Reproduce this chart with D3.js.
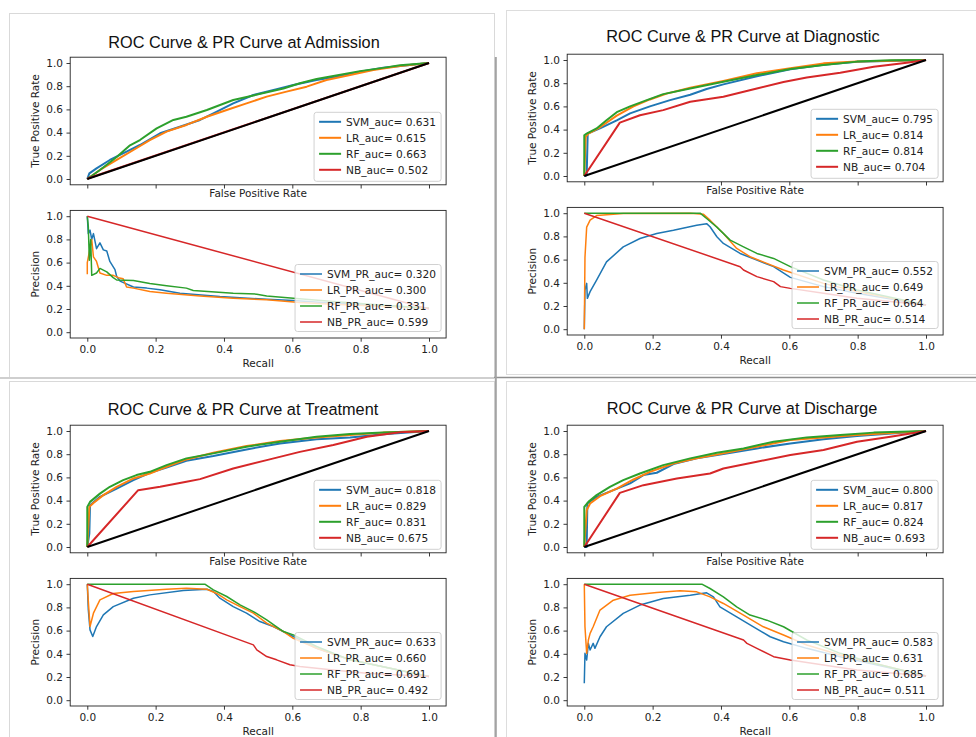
<!DOCTYPE html>
<html><head><meta charset="utf-8">
<script src="https://cdn.jsdelivr.net/npm/d3@7"></script>
<style>body{margin:0;background:#fff}svg{display:block}</style>
</head><body><svg id="c" width="976" height="737"></svg>
<script>
// ---------- DATA ----------
const stages = ["Admission", "Diagnostic", "Treatment", "Discharge"];
const models = ["SVM", "LR", "RF", "NB"];
const tickValues = [0, 0.2, 0.4, 0.6, 0.8, 1.0];
const rocAuc = [[0.631, 0.615, 0.663, 0.502], [0.795, 0.814, 0.814, 0.704], [0.818, 0.829, 0.831, 0.675], [0.800, 0.817, 0.824, 0.693]];
const prAuc = [[0.320, 0.300, 0.331, 0.599], [0.552, 0.649, 0.664, 0.514], [0.633, 0.660, 0.691, 0.492], [0.583, 0.631, 0.685, 0.511]];
const chanceLine = [[0, 0], [1, 1]];

// ROC curves [SVM, LR, RF, NB] as [FPR, TPR]
const rocAdmission = [
  [[0,0],[0.006,0.049],[0.027,0.092],[0.066,0.164],[0.115,0.236],[0.154,0.293],[0.213,0.394],[0.271,0.451],[0.33,0.509],[0.369,0.566],[0.427,0.652],[0.486,0.724],[0.554,0.773],[0.603,0.81],[0.671,0.853],[0.72,0.876],[0.798,0.925],[0.866,0.96],[1,1]],
  [[0,0],[0.037,0.078],[0.086,0.164],[0.135,0.25],[0.183,0.336],[0.232,0.408],[0.29,0.466],[0.35,0.537],[0.408,0.595],[0.466,0.652],[0.525,0.71],[0.583,0.753],[0.642,0.796],[0.7,0.853],[0.769,0.897],[0.837,0.94],[0.915,0.974],[1,1]],
  [[0,0],[0.037,0.078],[0.086,0.19],[0.125,0.29],[0.154,0.336],[0.203,0.437],[0.252,0.509],[0.29,0.537],[0.35,0.595],[0.427,0.681],[0.486,0.72],[0.574,0.78],[0.622,0.825],[0.671,0.862],[0.72,0.888],[0.798,0.93],[0.866,0.958],[0.915,0.98],[1,1]],
  [[0,0],[0.003,0.006],[1,1]]
];
const rocDiagnostic = [
  [[0,0],[0.007,0.006],[0.01,0.366],[0.046,0.41],[0.095,0.48],[0.134,0.54],[0.192,0.6],[0.251,0.654],[0.31,0.7],[0.358,0.75],[0.407,0.79],[0.505,0.86],[0.603,0.92],[0.7,0.96],[0.798,0.984],[1,1]],
  [[0,0],[0.004,0.337],[0.012,0.366],[0.046,0.42],[0.095,0.52],[0.144,0.6],[0.192,0.66],[0.241,0.71],[0.31,0.76],[0.407,0.82],[0.505,0.885],[0.603,0.928],[0.7,0.971],[0.798,0.988],[1,1]],
  [[0,0],[0,0.35],[0.007,0.366],[0.036,0.41],[0.065,0.48],[0.095,0.55],[0.134,0.6],[0.183,0.654],[0.231,0.706],[0.31,0.755],[0.407,0.813],[0.505,0.87],[0.603,0.922],[0.7,0.957],[0.798,0.986],[0.896,0.997],[1,1]],
  [[0,0],[0.104,0.46],[0.163,0.524],[0.231,0.568],[0.31,0.64],[0.407,0.683],[0.505,0.755],[0.583,0.81],[0.651,0.85],[0.749,0.89],[0.847,0.942],[0.944,0.977],[1,1]]
];
const rocTreatment = [
  [[0,0],[0.006,0.115],[0.008,0.36],[0.037,0.432],[0.086,0.504],[0.135,0.576],[0.183,0.64],[0.232,0.686],[0.29,0.744],[0.369,0.784],[0.466,0.841],[0.564,0.893],[0.671,0.928],[0.769,0.945],[0.866,0.971],[1,1]],
  [[0,0],[0.006,0.346],[0.018,0.38],[0.047,0.447],[0.086,0.519],[0.135,0.591],[0.183,0.634],[0.232,0.692],[0.29,0.755],[0.369,0.813],[0.466,0.87],[0.564,0.914],[0.671,0.945],[0.769,0.965],[0.866,0.986],[1,1]],
  [[0,0],[0,0.346],[0.008,0.389],[0.037,0.46],[0.066,0.519],[0.105,0.576],[0.144,0.62],[0.183,0.648],[0.232,0.706],[0.29,0.764],[0.369,0.807],[0.466,0.865],[0.564,0.908],[0.671,0.95],[0.769,0.974],[0.866,0.988],[1,1]],
  [[0,0],[0.149,0.49],[0.213,0.519],[0.29,0.562],[0.33,0.585],[0.427,0.677],[0.525,0.749],[0.622,0.82],[0.72,0.88],[0.818,0.95],[0.915,0.99],[1,1]]
];
const rocDischarge = [
  [[0,0],[0.007,0],[0.009,0.375],[0.036,0.432],[0.085,0.49],[0.134,0.548],[0.173,0.62],[0.212,0.64],[0.261,0.715],[0.329,0.764],[0.407,0.801],[0.505,0.85],[0.603,0.893],[0.7,0.928],[0.798,0.957],[1,1]],
  [[0,0],[0.007,0.317],[0.017,0.375],[0.046,0.438],[0.095,0.504],[0.144,0.582],[0.192,0.648],[0.261,0.72],[0.329,0.764],[0.407,0.807],[0.505,0.865],[0.603,0.922],[0.7,0.945],[0.798,0.965],[1,1]],
  [[0,0],[0,0.346],[0.012,0.389],[0.036,0.447],[0.075,0.519],[0.114,0.576],[0.163,0.634],[0.231,0.706],[0.31,0.764],[0.388,0.813],[0.466,0.85],[0.554,0.908],[0.651,0.945],[0.749,0.965],[0.847,0.986],[1,1]],
  [[0,0],[0.104,0.467],[0.173,0.533],[0.271,0.59],[0.368,0.634],[0.407,0.677],[0.505,0.735],[0.603,0.793],[0.7,0.836],[0.798,0.908],[0.896,0.951],[1,1]]
];

// PR curves [SVM, LR, RF, NB] as [Recall, Precision]
const prAdmission = [
  [[0,1],[0.003,0.85],[0.008,0.88],[0.013,0.8],[0.018,0.85],[0.027,0.72],[0.037,0.77],[0.047,0.71],[0.057,0.7],[0.066,0.61],[0.081,0.54],[0.086,0.48],[0.096,0.44],[0.135,0.39],[0.174,0.38],[0.213,0.365],[0.271,0.336],[0.388,0.307],[0.525,0.284],[0.603,0.273],[0.72,0.25],[0.818,0.236],[1,0.207]],
  [[0,0.5],[0,0.6],[0.013,0.8],[0.018,0.65],[0.027,0.61],[0.037,0.51],[0.057,0.49],[0.076,0.49],[0.091,0.47],[0.105,0.46],[0.115,0.39],[0.135,0.38],[0.183,0.35],[0.232,0.336],[0.33,0.313],[0.427,0.293],[0.525,0.279],[0.622,0.256],[0.72,0.241],[1,0.207]],
  [[0,1],[0.003,0.91],[0.006,0.62],[0.01,0.8],[0.013,0.49],[0.027,0.51],[0.037,0.55],[0.057,0.52],[0.076,0.47],[0.086,0.45],[0.135,0.445],[0.183,0.42],[0.232,0.4],[0.29,0.38],[0.31,0.36],[0.427,0.336],[0.496,0.328],[0.525,0.313],[0.603,0.293],[0.72,0.264],[0.818,0.244],[1,0.207]],
  [[0,1],[1,0.2]]
];
const prDiagnostic = [
  [[0,0],[0.002,0.338],[0.007,0.395],[0.009,0.266],[0.017,0.324],[0.036,0.424],[0.065,0.58],[0.114,0.71],[0.163,0.782],[0.212,0.825],[0.261,0.853],[0.329,0.897],[0.358,0.91],[0.368,0.883],[0.388,0.797],[0.407,0.739],[0.456,0.653],[0.505,0.596],[0.554,0.539],[0.603,0.447],[0.7,0.367],[0.798,0.31],[1,0.209]],
  [[0,0],[0.002,0.62],[0.007,0.88],[0.017,0.94],[0.036,0.98],[0.114,0.997],[0.31,1],[0.349,0.99],[0.368,0.94],[0.407,0.825],[0.446,0.696],[0.485,0.625],[0.534,0.567],[0.583,0.51],[0.7,0.395],[0.798,0.324],[1,0.209]],
  [[0,1],[0.339,1],[0.358,0.954],[0.388,0.88],[0.427,0.768],[0.466,0.71],[0.505,0.653],[0.554,0.61],[0.603,0.539],[0.7,0.424],[0.798,0.338],[1,0.209]],
  [[0,1],[0.456,0.539],[0.466,0.51],[0.505,0.453],[0.554,0.41],[0.574,0.367],[0.603,0.352],[0.7,0.31],[0.798,0.266],[1,0.209]]
];
const prTreatment = [
  [[0,1],[0.003,0.78],[0.008,0.606],[0.016,0.549],[0.027,0.635],[0.047,0.736],[0.076,0.807],[0.135,0.879],[0.183,0.908],[0.281,0.945],[0.35,0.957],[0.369,0.937],[0.388,0.879],[0.427,0.807],[0.466,0.75],[0.505,0.678],[0.544,0.635],[0.603,0.549],[0.671,0.448],[0.769,0.348],[1,0.204]],
  [[0,1],[0.004,0.81],[0.008,0.635],[0.018,0.75],[0.037,0.865],[0.076,0.92],[0.135,0.937],[0.232,0.957],[0.29,0.966],[0.35,0.957],[0.379,0.92],[0.408,0.865],[0.447,0.807],[0.486,0.75],[0.525,0.664],[0.574,0.592],[0.603,0.534],[0.671,0.448],[0.769,0.348],[1,0.204]],
  [[0,1],[0.344,1],[0.369,0.951],[0.408,0.894],[0.447,0.822],[0.486,0.764],[0.525,0.693],[0.574,0.592],[0.603,0.563],[0.671,0.463],[0.769,0.348],[1,0.204]],
  [[0,1],[0.486,0.477],[0.496,0.434],[0.525,0.376],[0.554,0.348],[0.593,0.305],[0.622,0.29],[0.72,0.261],[0.818,0.233],[1,0.204]]
];
const prDischarge = [
  [[0,0.146],[0.002,0.404],[0.007,0.347],[0.012,0.49],[0.017,0.433],[0.026,0.49],[0.031,0.447],[0.046,0.547],[0.065,0.633],[0.114,0.748],[0.163,0.82],[0.231,0.877],[0.31,0.905],[0.358,0.926],[0.378,0.891],[0.397,0.805],[0.446,0.719],[0.495,0.633],[0.544,0.547],[0.583,0.504],[0.651,0.447],[0.749,0.375],[1,0.209]],
  [[0,1],[0.002,0.633],[0.007,0.404],[0.012,0.519],[0.017,0.576],[0.026,0.633],[0.046,0.777],[0.085,0.862],[0.134,0.905],[0.212,0.928],[0.28,0.943],[0.329,0.934],[0.368,0.891],[0.407,0.834],[0.466,0.734],[0.524,0.633],[0.583,0.562],[0.651,0.476],[0.749,0.39],[1,0.209]],
  [[0,1],[0.344,1],[0.368,0.963],[0.407,0.891],[0.446,0.805],[0.485,0.734],[0.534,0.69],[0.583,0.633],[0.651,0.519],[0.749,0.404],[0.847,0.318],[1,0.209]],
  [[0,1],[0.466,0.519],[0.476,0.49],[0.505,0.447],[0.554,0.375],[0.603,0.347],[0.7,0.304],[0.798,0.261],[1,0.209]]
];

const rocData = [rocAdmission, rocDiagnostic, rocTreatment, rocDischarge];
const prData = [prAdmission, prDiagnostic, prTreatment, prDischarge];

// ---------- STYLE / LAYOUT ----------
const colors = ["#1f77b4", "#ff7f0e", "#2ca02c", "#d62728"];
const layout = [
  {left: 70.2, top: 57.2, tx: 244, ty: 48},
  {left: 567.2, top: 54.2, tx: 743, ty: 42},
  {left: 70.2, top: 425.2, tx: 243, ty: 415},
  {left: 567.2, top: 425.2, tx: 742, ty: 414}
];
const AW = 375.9, AH = 127.6, PR_OFFSET = 153.2;
const FONT = "'DejaVu Sans', sans-serif";
const FS = 10.5;

const svg = d3.select("#c");

// screenshot frames
const frames = svg.append("g").attr("fill", "none");
frames.append("rect").attr("x", 9.5).attr("y", 13.5).attr("width", 485).attr("height", 364).attr("stroke", "#d9d9d9");
frames.append("rect").attr("x", 506.5).attr("y", 10.5).attr("width", 480).attr("height", 364).attr("stroke", "#dddddd");
frames.append("rect").attr("x", 9.5).attr("y", 381.5).attr("width", 485).attr("height", 400).attr("stroke", "#d9d9d9");
frames.append("rect").attr("x", 506.5).attr("y", 381.5).attr("width", 480).attr("height", 400).attr("stroke", "#dddddd");
frames.append("line").attr("x1", 0).attr("x2", 494).attr("y1", 378).attr("y2", 378).attr("stroke", "#cfcfcf").attr("stroke-width", 2);
frames.append("line").attr("x1", 494).attr("x2", 976).attr("y1", 377.5).attr("y2", 377.5).attr("stroke", "#8f8f8f").attr("stroke-width", 1.5);
frames.append("line").attr("x1", 495.8).attr("x2", 495.8).attr("y1", 57).attr("y2", 737).attr("stroke", "#a3a3a3").attr("stroke-width", 2);

function drawAxes(g, x, y, left, top, showXLabels) {
  const bottom = top + AH;
  const ax = g.append("g").attr("transform", `translate(0,${bottom})`)
    .call(d3.axisBottom(x).tickValues(tickValues).tickSize(3.7).tickPadding(3.5)
      .tickFormat(showXLabels ? d3.format(".1f") : () => ""));
  const ay = g.append("g").attr("transform", `translate(${left},0)`)
    .call(d3.axisLeft(y).tickValues(tickValues).tickSize(3.7).tickPadding(3.5).tickFormat(d3.format(".1f")));
  [ax, ay].forEach(a => {
    a.select(".domain").remove();
    a.selectAll("line").attr("stroke", "#222").attr("stroke-width", 0.9);
    a.selectAll("text").attr("font-family", FONT).attr("font-size", FS).attr("fill", "#222");
  });
}

function drawLegend(g, labels, right, bottom, h, lineW) {
  const lg = g.append("g");
  const rect = lg.append("rect").attr("fill", "white").attr("fill-opacity", 0.8)
    .attr("stroke", "#cccccc").attr("stroke-opacity", 0.9).attr("rx", 2.5);
  const items = lg.selectAll("g.item").data(labels).join("g").attr("class", "item");
  const texts = items.append("text").text(d => d).attr("font-family", FONT).attr("font-size", FS + 0.1)
    .attr("fill", "#222").attr("dy", "0.35em");
  let tw = 0;
  texts.each(function () { tw = Math.max(tw, this.getComputedTextLength()); });
  const w = tw + 37;
  const left = right - w, top = bottom - h;
  rect.attr("x", left).attr("y", top).attr("width", w).attr("height", h);
  items.each(function (d, i) {
    const cy = top + 9.5 + 16 * i;
    const it = d3.select(this);
    it.insert("line", "text").attr("x1", left + 5).attr("x2", left + 27).attr("y1", cy).attr("y2", cy)
      .attr("stroke", colors[i]).attr("stroke-width", lineW);
    it.select("text").attr("x", left + 32).attr("y", cy);
  });
}

stages.forEach((stage, s) => {
  const L = layout[s];
  const g = svg.append("g");
  const left = L.left, right = L.left + AW;
  const x = d3.scaleLinear().domain([-0.05, 1.05]).range([left, right]);

  // title
  g.append("text").attr("x", L.tx).attr("y", L.ty).attr("text-anchor", "middle")
    .attr("font-family", "'Liberation Sans', Arial, Helvetica, sans-serif").attr("font-size", 16.3)
    .attr("fill", "#111").text(`ROC Curve & PR Curve at ${stage}`);

  // ---- ROC ----
  const rTop = L.top, rBot = L.top + AH;
  const yR = d3.scaleLinear().domain([-0.05, 1.05]).range([rBot, rTop]);
  const lineR = d3.line().x(d => x(d[0])).y(d => yR(d[1]));
  const clipR = `clipR${s}`;
  g.append("clipPath").attr("id", clipR).append("rect").attr("x", left).attr("y", rTop).attr("width", AW).attr("height", AH);
  const pr = g.append("g").attr("clip-path", `url(#${clipR})`);
  rocData[s].forEach((pts, i) => {
    pr.append("path").attr("d", lineR(pts)).attr("fill", "none").attr("stroke", colors[i])
      .attr("stroke-width", 2).attr("stroke-linejoin", "round");
  });
  pr.append("path").attr("d", lineR(chanceLine)).attr("fill", "none").attr("stroke", "#000").attr("stroke-width", 2);
  drawAxes(g, x, yR, left, rTop, false);
  g.append("rect").attr("x", left).attr("y", rTop).attr("width", AW).attr("height", AH)
    .attr("fill", "none").attr("stroke", "#222").attr("stroke-width", 0.9);
  g.append("text").attr("x", (left + right) / 2).attr("y", rBot + 8.4).attr("dy", "0.35em")
    .attr("text-anchor", "middle").attr("font-family", FONT).attr("font-size", FS).attr("fill", "#222")
    .text("False Positive Rate");
  g.append("text").attr("transform", `translate(${left - 35},${(rTop + rBot) / 2}) rotate(-90)`)
    .attr("dy", "0.35em").attr("text-anchor", "middle").attr("font-family", FONT).attr("font-size", FS)
    .attr("fill", "#222").text("True Positive Rate");
  drawLegend(g, models.map((m, i) => `${m}_auc= ${rocAuc[s][i].toFixed(3)}`), right - 5, rBot - 3.5, 69, 2);

  // ---- PR ----
  const pTop = L.top + PR_OFFSET, pBot = pTop + AH;
  const yP = d3.scaleLinear().domain([-0.05, 1.05]).range([pBot, pTop]);
  const lineP = d3.line().x(d => x(d[0])).y(d => yP(d[1]));
  const clipP = `clipP${s}`;
  g.append("clipPath").attr("id", clipP).append("rect").attr("x", left).attr("y", pTop).attr("width", AW).attr("height", AH);
  const pp = g.append("g").attr("clip-path", `url(#${clipP})`);
  prData[s].forEach((pts, i) => {
    pp.append("path").attr("d", lineP(pts)).attr("fill", "none").attr("stroke", colors[i])
      .attr("stroke-width", 1.5).attr("stroke-linejoin", "round");
  });
  drawAxes(g, x, yP, left, pTop, true);
  g.append("rect").attr("x", left).attr("y", pTop).attr("width", AW).attr("height", AH)
    .attr("fill", "none").attr("stroke", "#222").attr("stroke-width", 0.9);
  g.append("text").attr("x", (left + right) / 2).attr("y", pBot + 25.8).attr("dy", "0.35em")
    .attr("text-anchor", "middle").attr("font-family", FONT).attr("font-size", FS).attr("fill", "#222")
    .text("Recall");
  g.append("text").attr("transform", `translate(${left - 35},${(pTop + pBot) / 2}) rotate(-90)`)
    .attr("dy", "0.35em").attr("text-anchor", "middle").attr("font-family", FONT).attr("font-size", FS)
    .attr("fill", "#222").text("Precision");
  drawLegend(g, models.map((m, i) => `${m}_PR_auc= ${prAuc[s][i].toFixed(3)}`), right - 5, pBot - 6.5, 67, 1.5);
});
</script>
</body></html>
